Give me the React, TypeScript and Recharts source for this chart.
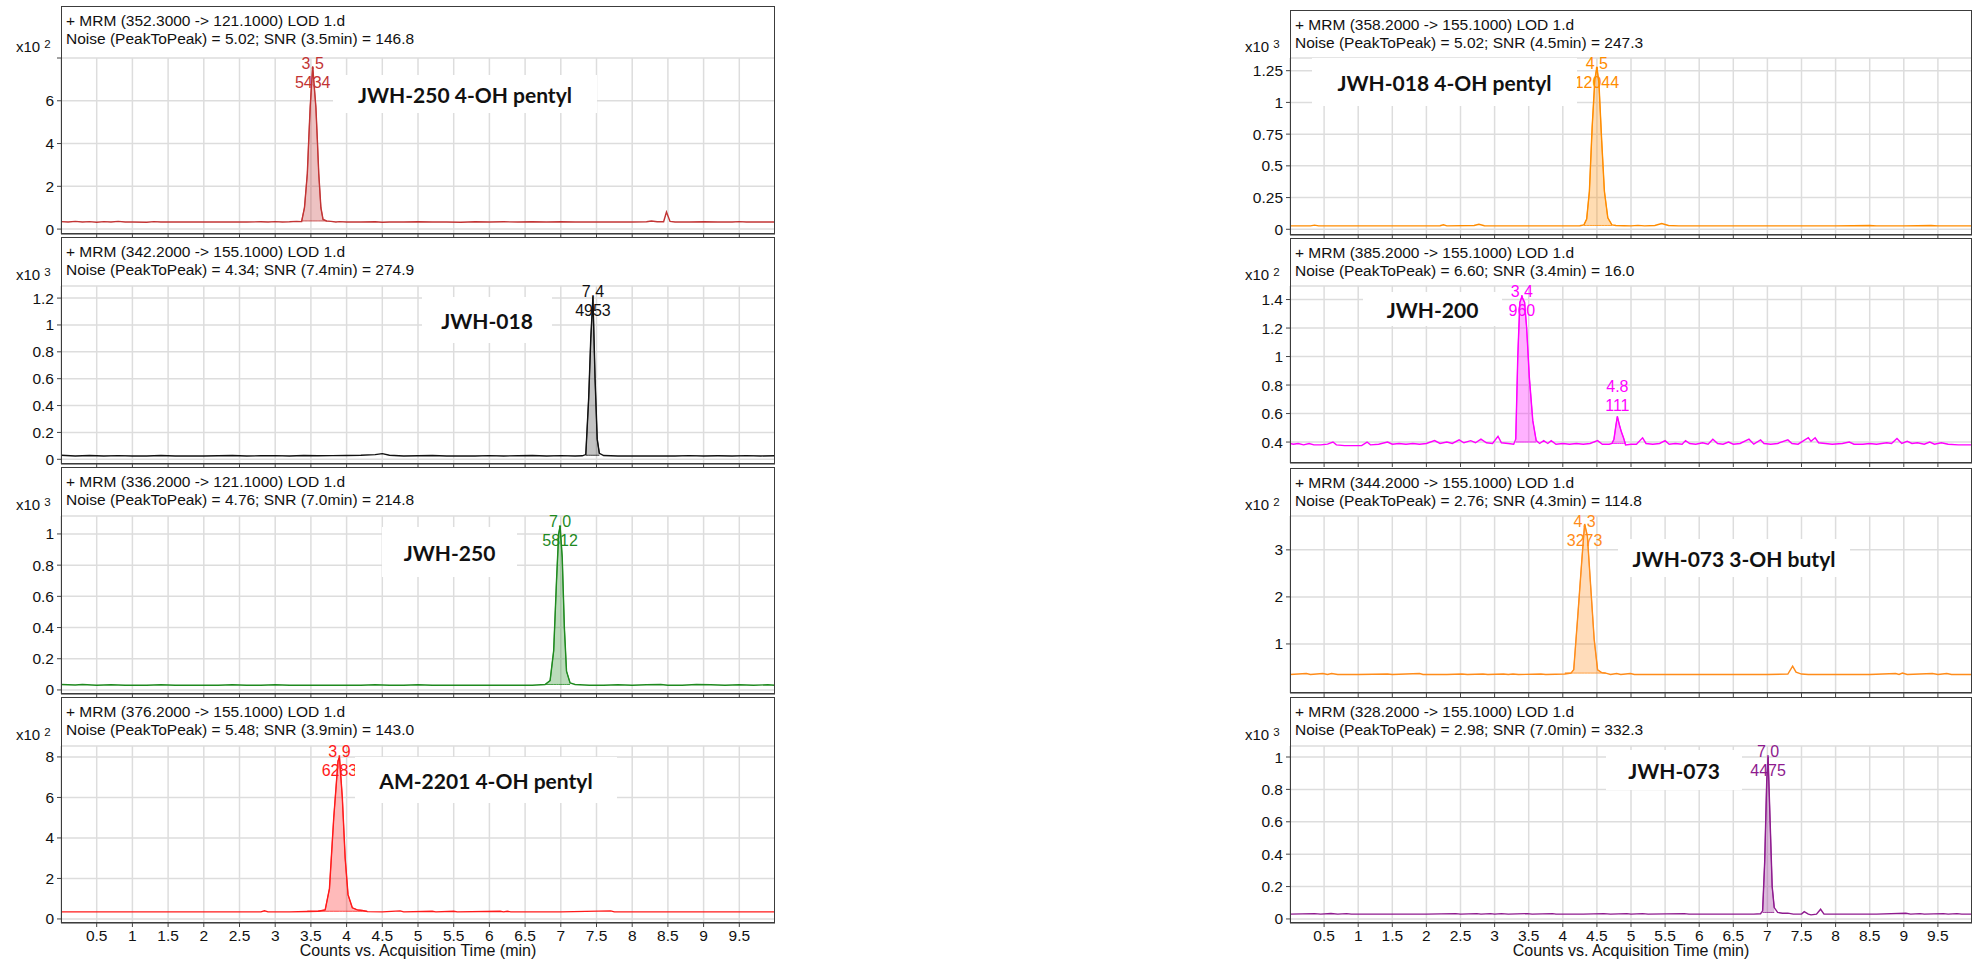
import React from 'react';
import { ComposedChart, Line, Area, XAxis, YAxis, CartesianGrid, ReferenceDot } from 'recharts';

// ---------- shared axis values ----------
const xTicks = [0.5, 1, 1.5, 2, 2.5, 3, 3.5, 4, 4.5, 5, 5.5, 6, 6.5, 7, 7.5, 8, 8.5, 9, 9.5];
const xAxisTitle = 'Counts vs. Acquisition Time (min)';

// ---------- traces: [time (min), counts in display units] ----------
const jwh250OhPentylTrace = [
  [0, 0.35], [0.1, 0.33], [0.2, 0.36], [0.3, 0.33], [0.4, 0.35], [0.5, 0.32], [0.6, 0.35], [0.7, 0.33], [0.8, 0.36], [0.9, 0.33],
  [1.0, 0.33], [1.2, 0.32], [1.3, 0.35], [1.4, 0.33], [1.6, 0.33], [1.8, 0.33], [2.0, 0.33], [2.2, 0.33], [2.4, 0.33], [2.6, 0.33],
  [2.8, 0.34], [2.9, 0.33], [3.0, 0.35], [3.1, 0.33], [3.2, 0.34], [3.3, 0.36], [3.37, 0.35], [3.41, 1.0], [3.45, 2.6], [3.47, 4.2],
  [3.49, 5.7], [3.525, 7.6], [3.57, 5.7], [3.59, 4.2], [3.61, 2.6], [3.64, 1.0], [3.67, 0.45], [3.72, 0.38], [3.78, 0.36], [3.85, 0.33],
  [3.9, 0.35], [4.0, 0.33], [4.2, 0.33], [4.4, 0.34], [4.5, 0.32], [4.6, 0.33], [4.8, 0.33], [5.0, 0.34], [5.2, 0.33], [5.4, 0.33],
  [5.6, 0.32], [5.8, 0.34], [6.0, 0.33], [6.2, 0.34], [6.4, 0.33], [6.6, 0.34], [6.8, 0.33], [7.0, 0.34], [7.2, 0.33], [7.4, 0.33],
  [7.6, 0.33], [7.8, 0.33], [8.0, 0.33], [8.2, 0.34], [8.27, 0.38], [8.35, 0.34], [8.44, 0.34], [8.48, 0.8], [8.53, 0.36], [8.6, 0.33],
  [8.8, 0.33], [9.0, 0.34], [9.2, 0.33], [9.4, 0.33], [9.5, 0.35], [9.6, 0.33], [9.8, 0.33], [10, 0.33],
];

const jwh018Trace = [
  [0, 0.03], [0.2, 0.025], [0.4, 0.028], [0.6, 0.024], [0.8, 0.027], [1.0, 0.025], [1.2, 0.025], [1.4, 0.028], [1.6, 0.024], [1.8, 0.025],
  [2.0, 0.025], [2.2, 0.026], [2.4, 0.028], [2.6, 0.025], [2.8, 0.026], [3.0, 0.027], [3.2, 0.025], [3.4, 0.028], [3.6, 0.026], [3.8, 0.027],
  [4.0, 0.028], [4.2, 0.03], [4.4, 0.035], [4.5, 0.042], [4.6, 0.03], [4.8, 0.025], [5.0, 0.026], [5.2, 0.028], [5.4, 0.025], [5.6, 0.025],
  [5.8, 0.025], [6.0, 0.027], [6.2, 0.025], [6.4, 0.026], [6.6, 0.028], [6.8, 0.025], [7.0, 0.027], [7.2, 0.025], [7.3, 0.026], [7.35, 0.035],
  [7.39, 0.45], [7.42, 0.9], [7.45, 1.21], [7.48, 0.6], [7.51, 0.15], [7.54, 0.045], [7.6, 0.028], [7.8, 0.025], [8.0, 0.025], [8.2, 0.025],
  [8.4, 0.025], [8.6, 0.025], [8.8, 0.027], [9.0, 0.025], [9.2, 0.026], [9.4, 0.025], [9.6, 0.027], [9.8, 0.025], [10, 0.026],
];

const jwh250Trace = [
  [0, 0.035], [0.2, 0.032], [0.3, 0.035], [0.5, 0.03], [0.7, 0.033], [0.9, 0.03], [1.2, 0.03], [1.4, 0.033], [1.6, 0.03], [1.8, 0.03],
  [2.0, 0.03], [2.2, 0.03], [2.4, 0.033], [2.6, 0.03], [2.8, 0.03], [3.0, 0.033], [3.2, 0.03], [3.4, 0.03], [3.6, 0.03], [3.8, 0.03],
  [4.0, 0.03], [4.2, 0.03], [4.4, 0.033], [4.6, 0.03], [4.8, 0.03], [5.0, 0.033], [5.2, 0.03], [5.4, 0.03], [5.6, 0.03], [5.8, 0.03],
  [6.0, 0.03], [6.2, 0.03], [6.4, 0.03], [6.6, 0.03], [6.78, 0.035], [6.85, 0.06], [6.9, 0.25], [6.94, 0.7], [6.97, 1.0], [6.99, 1.05],
  [7.02, 0.85], [7.05, 0.4], [7.08, 0.12], [7.13, 0.045], [7.2, 0.035], [7.4, 0.03], [7.6, 0.03], [7.8, 0.033], [8.0, 0.03], [8.2, 0.033],
  [8.4, 0.035], [8.5, 0.03], [8.7, 0.03], [8.9, 0.035], [9.1, 0.033], [9.3, 0.03], [9.5, 0.033], [9.7, 0.03], [9.9, 0.033], [10, 0.03],
];

const am2201OhPentylTrace = [
  [0, 0.35], [0.5, 0.35], [1.0, 0.35], [1.5, 0.35], [2.0, 0.35], [2.5, 0.35], [2.8, 0.35], [2.85, 0.4], [2.9, 0.35], [3.2, 0.35],
  [3.45, 0.37], [3.6, 0.38], [3.7, 0.45], [3.76, 1.5], [3.82, 5.0], [3.88, 7.8], [3.9, 8.0], [3.94, 6.0], [3.98, 3.0], [4.02, 1.2],
  [4.08, 0.55], [4.15, 0.45], [4.22, 0.42], [4.29, 0.36], [4.5, 0.35], [4.75, 0.4], [4.8, 0.35], [5.2, 0.38], [5.25, 0.35], [5.5, 0.38],
  [5.55, 0.35], [6.15, 0.38], [6.2, 0.35], [6.25, 0.38], [6.3, 0.35], [7.0, 0.35], [7.7, 0.4], [7.75, 0.35], [8.5, 0.35], [9.0, 0.35],
  [9.5, 0.35], [10, 0.35],
];

const jwh018OhPentylTrace = [
  [0, 0.027], [0.3, 0.027], [0.36, 0.033], [0.42, 0.027], [0.8, 0.027], [1.2, 0.027], [1.6, 0.027], [2.0, 0.027], [2.2, 0.028], [2.25, 0.035],
  [2.3, 0.027], [2.7, 0.03], [2.77, 0.04], [2.85, 0.028], [3.2, 0.027], [3.6, 0.027], [4.0, 0.027], [4.25, 0.028], [4.31, 0.035], [4.35, 0.08],
  [4.39, 0.3], [4.43, 0.8], [4.47, 1.18], [4.5, 1.28], [4.53, 1.15], [4.57, 0.7], [4.61, 0.3], [4.66, 0.09], [4.72, 0.035], [4.78, 0.03],
  [4.9, 0.028], [5.0, 0.027], [5.1, 0.031], [5.2, 0.027], [5.35, 0.03], [5.45, 0.045], [5.55, 0.03], [5.7, 0.027], [6.0, 0.027], [6.4, 0.027],
  [6.8, 0.027], [7.2, 0.027], [7.6, 0.027], [8.0, 0.027], [8.5, 0.03], [8.6, 0.027], [9.0, 0.027], [9.4, 0.03], [9.5, 0.027], [10, 0.027],
];

const jwh200Trace = [
  [0, 0.39], [0.05, 0.385], [0.12, 0.39], [0.2, 0.38], [0.28, 0.39], [0.35, 0.38], [0.45, 0.38], [0.55, 0.385], [0.63, 0.4], [0.68, 0.38],
  [0.8, 0.375], [1.05, 0.375], [1.13, 0.4], [1.18, 0.38], [1.3, 0.385], [1.43, 0.4], [1.5, 0.385], [1.6, 0.39], [1.7, 0.385], [1.8, 0.39],
  [1.9, 0.385], [2.0, 0.39], [2.12, 0.41], [2.2, 0.39], [2.3, 0.4], [2.38, 0.39], [2.48, 0.415], [2.55, 0.395], [2.65, 0.41], [2.72, 0.395],
  [2.8, 0.42], [2.88, 0.395], [2.97, 0.39], [3.05, 0.44], [3.1, 0.395], [3.2, 0.39], [3.28, 0.385], [3.31, 0.42], [3.34, 1.0], [3.37, 1.38],
  [3.4, 1.42], [3.44, 1.38], [3.47, 1.2], [3.51, 0.85], [3.56, 0.55], [3.61, 0.41], [3.66, 0.39], [3.72, 0.41], [3.78, 0.39], [3.83, 0.41],
  [3.9, 0.385], [4.0, 0.39], [4.1, 0.385], [4.2, 0.39], [4.3, 0.385], [4.4, 0.39], [4.51, 0.41], [4.58, 0.385], [4.68, 0.385], [4.72, 0.39],
  [4.75, 0.42], [4.78, 0.52], [4.8, 0.58], [4.83, 0.52], [4.86, 0.47], [4.89, 0.43], [4.92, 0.38], [5.0, 0.385], [5.08, 0.385], [5.17, 0.43],
  [5.22, 0.39], [5.32, 0.385], [5.42, 0.39], [5.5, 0.41], [5.56, 0.385], [5.65, 0.39], [5.75, 0.385], [5.8, 0.41], [5.86, 0.39], [5.95, 0.385],
  [6.05, 0.395], [6.13, 0.385], [6.2, 0.42], [6.27, 0.39], [6.35, 0.385], [6.43, 0.4], [6.5, 0.385], [6.6, 0.39], [6.73, 0.42], [6.8, 0.385],
  [6.9, 0.415], [6.95, 0.39], [7.05, 0.385], [7.15, 0.39], [7.3, 0.415], [7.36, 0.39], [7.45, 0.385], [7.6, 0.43], [7.64, 0.405], [7.7, 0.43],
  [7.75, 0.395], [7.85, 0.39], [7.95, 0.385], [8.1, 0.39], [8.2, 0.4], [8.27, 0.385], [8.4, 0.385], [8.5, 0.39], [8.6, 0.385], [8.75, 0.395],
  [8.82, 0.39], [8.9, 0.425], [8.97, 0.39], [9.05, 0.405], [9.12, 0.39], [9.2, 0.395], [9.3, 0.385], [9.38, 0.4], [9.45, 0.385], [9.55, 0.395],
  [9.65, 0.385], [9.8, 0.38], [10, 0.38],
];

const jwh073OhButylTrace = [
  [0, 0.35], [0.24, 0.37], [0.3, 0.35], [0.48, 0.37], [0.55, 0.35], [0.61, 0.37], [0.7, 0.35], [1.0, 0.35], [1.43, 0.36], [1.5, 0.35],
  [1.9, 0.37], [1.95, 0.35], [2.3, 0.35], [2.52, 0.36], [2.6, 0.35], [2.83, 0.36], [2.9, 0.35], [3.13, 0.36], [3.2, 0.35], [3.27, 0.36],
  [3.35, 0.35], [3.68, 0.36], [3.75, 0.35], [4.03, 0.36], [4.12, 0.38], [4.16, 0.45], [4.22, 1.6], [4.28, 2.8], [4.32, 3.55], [4.36, 3.3],
  [4.41, 2.2], [4.46, 1.1], [4.51, 0.45], [4.57, 0.39], [4.63, 0.38], [4.7, 0.35], [4.79, 0.37], [4.85, 0.35], [4.99, 0.37], [5.05, 0.35],
  [5.5, 0.35], [6.0, 0.35], [6.5, 0.35], [7.0, 0.35], [7.3, 0.36], [7.37, 0.53], [7.42, 0.4], [7.5, 0.36], [7.6, 0.35], [8.0, 0.35],
  [8.5, 0.35], [8.88, 0.37], [8.93, 0.35], [8.98, 0.38], [9.05, 0.35], [9.42, 0.37], [9.5, 0.35], [9.63, 0.37], [9.7, 0.35], [10, 0.35],
];

const jwh073Trace = [
  [0, 0.03], [0.36, 0.033], [0.45, 0.03], [0.6, 0.034], [0.7, 0.03], [0.83, 0.033], [0.9, 0.03], [1.5, 0.03], [2.0, 0.03], [2.43, 0.033],
  [2.5, 0.03], [2.74, 0.033], [2.8, 0.03], [2.94, 0.033], [3.0, 0.03], [3.1, 0.033], [3.2, 0.03], [3.48, 0.033], [3.55, 0.03], [3.85, 0.033],
  [3.9, 0.03], [4.3, 0.03], [4.6, 0.033], [4.7, 0.03], [4.94, 0.033], [5.0, 0.03], [5.17, 0.033], [5.25, 0.03], [5.78, 0.033], [5.85, 0.03],
  [6.3, 0.03], [6.8, 0.03], [6.9, 0.032], [6.93, 0.05], [6.96, 0.35], [6.99, 0.85], [7.01, 1.0], [7.04, 0.6], [7.07, 0.2], [7.1, 0.07],
  [7.15, 0.04], [7.22, 0.035], [7.3, 0.036], [7.38, 0.03], [7.5, 0.03], [7.54, 0.045], [7.6, 0.03], [7.64, 0.025], [7.72, 0.03], [7.78, 0.06],
  [7.83, 0.03], [8.2, 0.03], [8.6, 0.03], [9.03, 0.035], [9.1, 0.03], [9.24, 0.033], [9.3, 0.03], [9.58, 0.033], [9.65, 0.03], [9.78, 0.033],
  [9.85, 0.03], [10, 0.03],
];

// ---------- y tick values ----------
const yTicksJwh250OhPentyl = [0, 2, 4, 6, 8];
const yLabelsJwh250OhPentyl = ['0', '2', '4', '6', ''];
const yTicksJwh018 = [0, 0.2, 0.4, 0.6, 0.8, 1, 1.2];
const yTicksJwh250 = [0, 0.2, 0.4, 0.6, 0.8, 1];
const yTicksAm2201 = [0, 2, 4, 6, 8];
const yTicksJwh018OhPentyl = [0, 0.25, 0.5, 0.75, 1, 1.25];
const yTicksJwh200 = [0.4, 0.6, 0.8, 1, 1.2, 1.4];
const yTicksJwh073OhButyl = [1, 2, 3];
const yTicksJwh073 = [0, 0.2, 0.4, 0.6, 0.8, 1];

// ---------- peak annotations (retention time, area) ----------
const peaksJwh250OhPentyl = [{ t: 3.525, v: 7.6, rt: '3.5', area: '5434' }];
const peaksJwh018 = [{ t: 7.45, v: 1.21, rt: '7.4', area: '4953' }];
const peaksJwh250 = [{ t: 6.99, v: 1.05, rt: '7.0', area: '5812' }];
const peaksAm2201 = [{ t: 3.9, v: 8.0, rt: '3.9', area: '6283' }];
const peaksJwh018OhPentyl = [{ t: 4.5, v: 1.28, rt: '4.5', area: '12044' }];
const peaksJwh200 = [{ t: 3.4, v: 1.42, rt: '3.4', area: '960' }, { t: 4.8, v: 0.58, rt: '4.8', area: '111' }];
const peaksJwh073OhButyl = [{ t: 4.32, v: 3.55, rt: '4.3', area: '3273' }];
const peaksJwh073 = [{ t: 7.01, v: 1.0, rt: '7.0', area: '4475' }];

// ---------- integrated regions (start, end, baseline) ----------
const fillsJwh250OhPentyl = [{ start: 3.37, end: 3.72, base: 0.38 }];
const fillsJwh018 = [{ start: 7.35, end: 7.54, base: 0.03 }];
const fillsJwh250 = [{ start: 6.78, end: 7.13, base: 0.035 }];
const fillsAm2201 = [{ start: 3.45, end: 4.29, base: 0.38 }];
const fillsJwh018OhPentyl = [{ start: 4.31, end: 4.72, base: 0.03 }];
const fillsJwh200 = [{ start: 3.31, end: 3.61, base: 0.4 }, { start: 4.72, end: 4.92, base: 0.39 }];
const fillsJwh073OhButyl = [{ start: 4.03, end: 4.63, base: 0.38 }];
const fillsJwh073 = [{ start: 6.93, end: 7.1, base: 0.04 }];

const FONT = '"Liberation Sans", Arial, Helvetica, sans-serif';
const LABEL_FONT = 'Lato, "Open Sans", "DejaVu Sans", sans-serif';

type Fill = { start: number; end: number; base: number };
type Peak = { t: number; v: number; rt: string; area: string };
type PanelCfg = {
  boxLeft: number; boxTop: number; boxWidth: number; plotTop: number; plotBottom: number;
  domain: [number, number]; yTicks: number[]; yLabels?: string[]; exp: string;
  title1: string; title2: string; color: string; fillOpacity: number;
  trace: number[][]; fills: Fill[]; peaks: Peak[];
  compound: string; cbox: { x: number; y: number; w: number; h: number };
  bottom?: boolean;
};

const LB = 61, LW = 714, RB = 1290, RW = 682;

const panels: PanelCfg[] = [
  {
    boxLeft: LB, boxTop: 6, boxWidth: LW, plotTop: 58, plotBottom: 234, domain: [-0.23, 8],
    yTicks: yTicksJwh250OhPentyl, yLabels: yLabelsJwh250OhPentyl, exp: '2',
    title1: '+ MRM (352.3000 -> 121.1000) LOD 1.d', title2: 'Noise (PeakToPeak) = 5.02; SNR (3.5min) = 146.8',
    color: '#c23434', fillOpacity: 0.3, trace: jwh250OhPentylTrace, fills: fillsJwh250OhPentyl, peaks: peaksJwh250OhPentyl,
    compound: 'JWH-250 4-OH pentyl', cbox: { x: 333, y: 75, w: 264, h: 38 },
  },
  {
    boxLeft: LB, boxTop: 237, boxWidth: LW, plotTop: 286, plotBottom: 464, domain: [-0.035, 1.29],
    yTicks: yTicksJwh018, exp: '3',
    title1: '+ MRM (342.2000 -> 155.1000) LOD 1.d', title2: 'Noise (PeakToPeak) = 4.34; SNR (7.4min) = 274.9',
    color: '#111111', fillOpacity: 0.25, trace: jwh018Trace, fills: fillsJwh018, peaks: peaksJwh018,
    compound: 'JWH-018', cbox: { x: 422, y: 297, w: 130, h: 46 },
  },
  {
    boxLeft: LB, boxTop: 467, boxWidth: LW, plotTop: 516, plotBottom: 694, domain: [-0.026, 1.115],
    yTicks: yTicksJwh250, exp: '3',
    title1: '+ MRM (336.2000 -> 121.1000) LOD 1.d', title2: 'Noise (PeakToPeak) = 4.76; SNR (7.0min) = 214.8',
    color: '#1f8a1f', fillOpacity: 0.3, trace: jwh250Trace, fills: fillsJwh250, peaks: peaksJwh250,
    compound: 'JWH-250', cbox: { x: 382, y: 527, w: 135, h: 50 },
  },
  {
    boxLeft: LB, boxTop: 697, boxWidth: LW, plotTop: 746, plotBottom: 923, domain: [-0.2, 8.54],
    yTicks: yTicksAm2201, exp: '2',
    title1: '+ MRM (376.2000 -> 155.1000) LOD 1.d', title2: 'Noise (PeakToPeak) = 5.48; SNR (3.9min) = 143.0',
    color: '#ff1a1a', fillOpacity: 0.3, trace: am2201OhPentylTrace, fills: fillsAm2201, peaks: peaksAm2201,
    compound: 'AM-2201 4-OH pentyl', cbox: { x: 355, y: 757, w: 262, h: 46 }, bottom: true,
  },
  {
    boxLeft: RB, boxTop: 10, boxWidth: RW, plotTop: 58, plotBottom: 235, domain: [-0.045, 1.35],
    yTicks: yTicksJwh018OhPentyl, exp: '3',
    title1: '+ MRM (358.2000 -> 155.1000) LOD 1.d', title2: 'Noise (PeakToPeak) = 5.02; SNR (4.5min) = 247.3',
    color: '#ff8c00', fillOpacity: 0.3, trace: jwh018OhPentylTrace, fills: fillsJwh018OhPentyl, peaks: peaksJwh018OhPentyl,
    compound: 'JWH-018 4-OH pentyl', cbox: { x: 1312, y: 58, w: 265, h: 48 },
  },
  {
    boxLeft: RB, boxTop: 238, boxWidth: RW, plotTop: 286, plotBottom: 463, domain: [0.253, 1.495],
    yTicks: yTicksJwh200, exp: '2',
    title1: '+ MRM (385.2000 -> 155.1000) LOD 1.d', title2: 'Noise (PeakToPeak) = 6.60; SNR (3.4min) = 16.0',
    color: '#ff00ff', fillOpacity: 0.3, trace: jwh200Trace, fills: fillsJwh200, peaks: peaksJwh200,
    compound: 'JWH-200', cbox: { x: 1363, y: 292, w: 139, h: 34 },
  },
  {
    boxLeft: RB, boxTop: 468, boxWidth: RW, plotTop: 516, plotBottom: 693, domain: [-0.043, 3.72],
    yTicks: yTicksJwh073OhButyl, exp: '2',
    title1: '+ MRM (344.2000 -> 155.1000) LOD 1.d', title2: 'Noise (PeakToPeak) = 2.76; SNR (4.3min) = 114.8',
    color: '#ff8c1a', fillOpacity: 0.3, trace: jwh073OhButylTrace, fills: fillsJwh073OhButyl, peaks: peaksJwh073OhButyl,
    compound: 'JWH-073 3-OH butyl', cbox: { x: 1618, y: 539, w: 232, h: 38 },
  },
  {
    boxLeft: RB, boxTop: 697, boxWidth: RW, plotTop: 746, plotBottom: 923, domain: [-0.025, 1.068],
    yTicks: yTicksJwh073, exp: '3',
    title1: '+ MRM (328.2000 -> 155.1000) LOD 1.d', title2: 'Noise (PeakToPeak) = 2.98; SNR (7.0min) = 332.3',
    color: '#8e1a8e', fillOpacity: 0.3, trace: jwh073Trace, fills: fillsJwh073, peaks: peaksJwh073,
    compound: 'JWH-073', cbox: { x: 1606, y: 750, w: 136, h: 40 }, bottom: true,
  },
];

function buildRows(trace: number[][], fills: Fill[]) {
  return trace.map(([t, v]) => {
    const row: Record<string, any> = { t, v };
    fills.forEach((f, i) => {
      if (t >= f.start - 1e-9 && t <= f.end + 1e-9) row['f' + i] = [f.base, Math.max(v, f.base)];
    });
    return row;
  });
}

function Panel({ cfg }: { cfg: PanelCfg }) {
  const rows = buildRows(cfg.trace, cfg.fills);
  const xh = cfg.bottom ? 37 : 6;
  const chartH = cfg.plotBottom - cfg.boxTop + xh;
  const mTop = cfg.plotTop - cfg.boxTop;
  const yLabel = (v: number) => {
    const idx = cfg.yTicks.findIndex((t) => Math.abs(t - v) < 1e-6);
    if (cfg.yLabels && idx >= 0) return cfg.yLabels[idx];
    return String(v);
  };
  return (
    <>
      <div style={{ position: 'absolute', left: cfg.boxLeft - 60, top: cfg.boxTop }}>
        <ComposedChart width={cfg.boxWidth + 60} height={chartH} data={rows} margin={{ top: mTop, right: 0, bottom: 0, left: 0 }}>
          <CartesianGrid stroke="#dddddd" strokeWidth={1.5} />
          <XAxis
            type="number" dataKey="t" domain={[0, 10]} ticks={xTicks} interval={0} allowDataOverflow
            height={xh} tickSize={4} tickMargin={3}
            axisLine={{ stroke: '#444' }} tickLine={{ stroke: '#444' }}
            tick={{ fontSize: 15.5, fill: '#111', fontFamily: FONT }}
            tickFormatter={(v: number) => (cfg.bottom ? String(v) : '')}
            label={cfg.bottom ? { value: xAxisTitle, position: 'insideBottom', offset: 4, fontSize: 16, fill: '#111', fontFamily: FONT } : undefined}
          />
          <YAxis
            type="number" domain={cfg.domain} ticks={cfg.yTicks} interval={0} allowDataOverflow
            width={60} tickSize={4} tickMargin={3}
            axisLine={false} tickLine={{ stroke: '#444' }}
            tick={{ fontSize: 15.5, fill: '#111', fontFamily: FONT }}
            tickFormatter={yLabel}
          />
          {cfg.fills.map((f, i) => (
            <Area
              key={'f' + i} dataKey={'f' + i} type="linear" stroke={cfg.color} strokeWidth={0.8}
              fill={cfg.color} fillOpacity={cfg.fillOpacity} dot={false} activeDot={false}
              connectNulls={false} isAnimationActive={false}
            />
          ))}
          <Line dataKey="v" type="linear" stroke={cfg.color} strokeWidth={1.4} dot={false} activeDot={false} isAnimationActive={false} />
          {cfg.peaks.map((p, i) => (
            <ReferenceDot
              key={'p' + i} x={p.t} y={p.v} r={0} isFront
              shape={(sp: any) => {
                const cx = sp.cx;
                const y1 = Math.max(sp.cy - 24, mTop + 11);
                return (
                  <g>
                    <text x={cx} y={y1} textAnchor="middle" fontSize={16} fill={cfg.color} fontFamily={FONT}>{p.rt}</text>
                    <text x={cx} y={y1 + 18.5} textAnchor="middle" fontSize={16} fill={cfg.color} fontFamily={FONT}>{p.area}</text>
                  </g>
                );
              }}
            />
          ))}
        </ComposedChart>
      </div>
      <div
        style={{
          position: 'absolute', left: cfg.boxLeft, top: cfg.boxTop, width: cfg.boxWidth,
          height: cfg.plotBottom - cfg.boxTop, border: '1.5px solid #3c3c3c', boxSizing: 'border-box', pointerEvents: 'none',
        }}
      />
      <div
        style={{
          position: 'absolute', left: cfg.boxLeft + 5, top: cfg.boxTop + 6, fontSize: 15.5, lineHeight: '17.5px',
          color: '#111', fontFamily: FONT, whiteSpace: 'pre',
        }}
      >
        <div>{cfg.title1}</div>
        <div>{cfg.title2}</div>
      </div>
      <div
        style={{
          position: 'absolute', left: cfg.boxLeft - 45, top: cfg.plotTop - 20, fontSize: 15, lineHeight: '18px',
          color: '#111', fontFamily: FONT, whiteSpace: 'pre',
        }}
      >
        x10 <span style={{ fontSize: 11.5, position: 'relative', top: -4 }}>{cfg.exp}</span>
      </div>
      <div
        style={{
          position: 'absolute', left: cfg.cbox.x, top: cfg.cbox.y, width: cfg.cbox.w, height: cfg.cbox.h,
          background: '#ffffff', display: 'flex', alignItems: 'center', justifyContent: 'center',
          fontFamily: LABEL_FONT, fontWeight: 700, fontSize: 21, color: '#111', whiteSpace: 'pre',
        }}
      >
        {cfg.compound}
      </div>
    </>
  );
}

export default function App() {
  return (
    <div style={{ position: 'absolute', left: 0, top: 0, width: 1975, height: 960, background: '#fff', fontFamily: FONT, overflow: 'hidden' }}>
      {panels.map((cfg, i) => (
        <Panel key={i} cfg={cfg} />
      ))}
    </div>
  );
}
